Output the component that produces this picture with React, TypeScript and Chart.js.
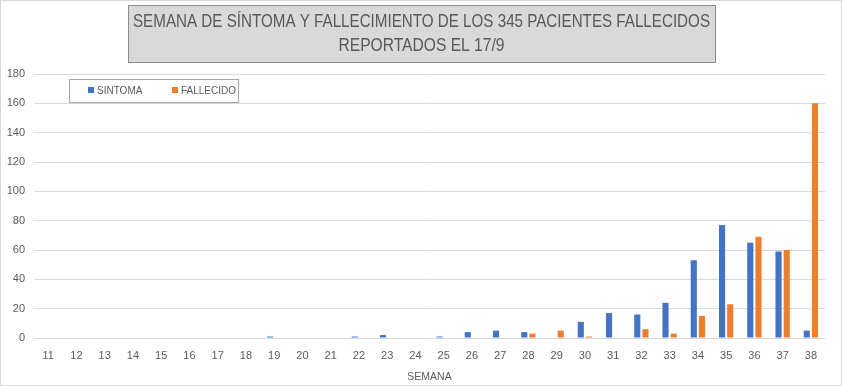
import React, { useEffect, useRef } from "react";
import { Chart, registerables } from "chart.js";

Chart.register(...registerables);

const weeks = ["11","12","13","14","15","16","17","18","19","20","21","22","23","24","25","26","27","28","29","30","31","32","33","34","35","36","37","38"];
const sintoma = [0,0,0,0,0,0,0,0,1,0,0,1,2,0,1,4,5,4,0,11,17,16,24,53,77,65,59,5];
const fallecido = [0,0,0,0,0,0,0,0,0,0,0,0,0,0,0,0,0,3,5,1,0,6,3,15,23,69,60,160];
const seriesNames = ["SINTOMA", "FALLECIDO"];
const seriesColors = ["#4472C4", "#ED7D31"];
const titleLines = ["SEMANA DE SÍNTOMA Y FALLECIMIENTO DE LOS 345 PACIENTES FALLECIDOS", "REPORTADOS EL 17/9"];
const axisTitle = "SEMANA";

const FONT = '"Liberation Sans", Arial, sans-serif';

const decorPlugin = {
  id: "decor",
  beforeDraw(chart: any) {
    const ctx = chart.ctx;
    ctx.save();
    ctx.fillStyle = "#ffffff";
    ctx.fillRect(0, 0, chart.width, chart.height);
    ctx.strokeStyle = "#d9d9d9";
    ctx.lineWidth = 1;
    ctx.strokeRect(0.5, 0.5, chart.width - 1, chart.height - 1);
    // title box
    ctx.fillStyle = "#d9d9d9";
    ctx.fillRect(128, 5, 587, 57);
    ctx.strokeStyle = "#8c8c8c";
    ctx.strokeRect(128.5, 5.5, 587, 57);
    ctx.fillStyle = "#595959";
    ctx.textAlign = "center";
    ctx.textBaseline = "middle";
    ctx.font = '18px "Liberation Sans Narrow", ' + FONT;
    ctx.fillText(titleLines[0], 421.5, 22, 577);
    ctx.fillText(titleLines[1], 421.5, 46, 166);
    ctx.restore();
  },
  afterDatasetsDraw(chart: any) {
    const ctx = chart.ctx;
    ctx.save();
    ctx.fillStyle = "#ffffff";
    ctx.fillRect(69, 79, 169, 23);
    ctx.strokeStyle = "#a6a6a6";
    ctx.lineWidth = 1;
    ctx.strokeRect(69.5, 79.5, 169, 23);
    const xs = [88, 172];
    ctx.font = "10px " + FONT;
    ctx.textBaseline = "middle";
    ctx.textAlign = "left";
    chart.data.datasets.forEach((ds: any, i: number) => {
      ctx.fillStyle = ds.backgroundColor;
      ctx.fillRect(xs[i], 87, 6, 6);
      ctx.fillStyle = "#595959";
      ctx.fillText(ds.label, xs[i] + 9, 91);
    });
    ctx.restore();
  },
};

export default function App() {
  const ref = useRef<HTMLCanvasElement | null>(null);
  useEffect(() => {
    if (!ref.current) return;
    const chart = new Chart(ref.current, {
      type: "bar",
      data: {
        labels: weeks,
        datasets: [
          { label: seriesNames[0], data: sintoma, backgroundColor: seriesColors[0], barPercentage: 0.75, categoryPercentage: 0.58 },
          { label: seriesNames[1], data: fallecido, backgroundColor: seriesColors[1], barPercentage: 0.75, categoryPercentage: 0.58 },
        ],
      },
      options: {
        responsive: false,
        animation: false,
        layout: { padding: { top: 74, right: 17, bottom: 3, left: 0 } },
        plugins: {
          legend: { display: false },
          title: { display: false },
          tooltip: { enabled: false },
        },
        scales: {
          x: {
            grid: { display: false, drawTicks: false },
            border: { display: false },
            ticks: { color: "#595959", font: { family: FONT, size: 11 }, padding: 11, maxRotation: 0, autoSkip: false },
            title: { display: true, text: axisTitle, color: "#595959", font: { family: FONT, size: 10.5 }, padding: { top: 0, bottom: 0 } },
            afterFit(scale: any) { scale.height = 45; },
          },
          y: {
            min: 0,
            max: 180,
            ticks: { stepSize: 20, color: "#595959", font: { family: FONT, size: 11 }, padding: 9 },
            grid: { color: "#d9d9d9", drawTicks: false },
            border: { display: false },
            afterFit(scale: any) { scale.width = 34; },
          },
        },
      },
      plugins: [decorPlugin],
    });
    return () => chart.destroy();
  }, []);
  return (
    <div style={{ position: "fixed", left: 0, top: 0, width: 842, height: 386 }}>
      <canvas ref={ref} width={842} height={386} />
    </div>
  );
}
